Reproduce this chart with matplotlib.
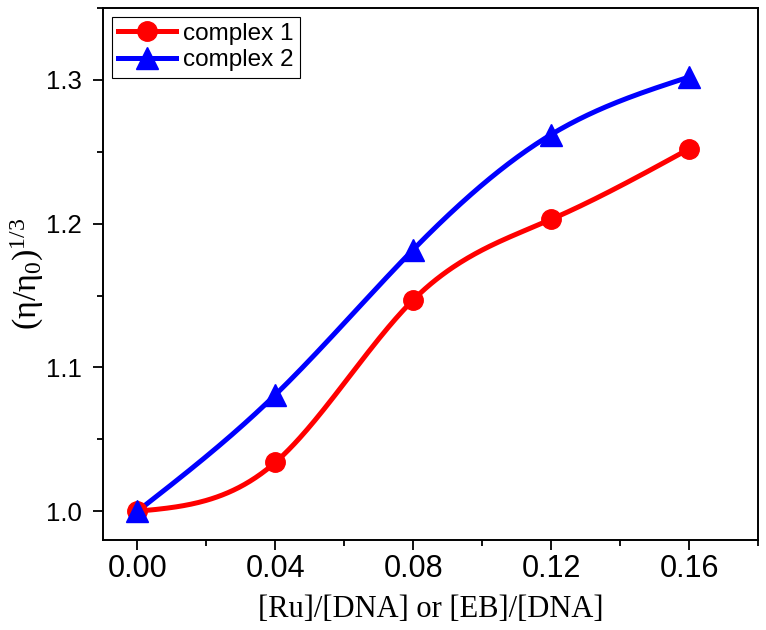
import numpy as np
import matplotlib
matplotlib.use("Agg")
import matplotlib.pyplot as plt
from matplotlib.ticker import MultipleLocator

x = [0.00, 0.04, 0.08, 0.12, 0.16]
complex1 = [1.000, 1.034, 1.147, 1.203, 1.252]
complex2 = [1.000, 1.081, 1.182, 1.262, 1.302]
xticks = [0.00, 0.04, 0.08, 0.12, 0.16]
yticks = [1.0, 1.1, 1.2, 1.3]


def natural_spline(xp, yp, xs):
    xp = np.asarray(xp, float); yp = np.asarray(yp, float)
    n = len(xp)
    h = np.diff(xp)
    A = np.zeros((n, n)); b = np.zeros(n)
    A[0, 0] = 1; A[-1, -1] = 1
    for i in range(1, n - 1):
        A[i, i - 1] = h[i - 1]
        A[i, i] = 2 * (h[i - 1] + h[i])
        A[i, i + 1] = h[i]
        b[i] = 6 * ((yp[i + 1] - yp[i]) / h[i] - (yp[i] - yp[i - 1]) / h[i - 1])
    M = np.linalg.solve(A, b)
    idx = np.clip(np.searchsorted(xp, xs) - 1, 0, n - 2)
    x0 = xp[idx]; x1 = xp[idx + 1]; hh = x1 - x0
    t0 = x1 - xs; t1 = xs - x0
    return (M[idx] * t0**3 / (6 * hh) + M[idx + 1] * t1**3 / (6 * hh)
            + (yp[idx] / hh - M[idx] * hh / 6) * t0
            + (yp[idx + 1] / hh - M[idx + 1] * hh / 6) * t1)


plt.rcParams['font.family'] = ['Liberation Sans', 'DejaVu Sans']
plt.rcParams['mathtext.fontset'] = 'custom'
plt.rcParams['mathtext.rm'] = 'Liberation Serif'
plt.rcParams['mathtext.it'] = 'Liberation Serif'

fig = plt.figure(figsize=(7.66, 6.30), dpi=100)
ax = fig.add_axes([103 / 766, 1 - 540 / 630, (758 - 103) / 766, (540 - 8) / 630])

xs = np.linspace(x[0], x[-1], 300)
ax.plot(xs, natural_spline(x, complex1, xs), color='#FF0000', lw=3.6, zorder=2)
ax.plot(xs, natural_spline(x, complex2, xs), color='#0000FF', lw=3.6, zorder=2)
ax.plot(x, complex1, 'o', color='#FF0000', ms=14, zorder=3)
ax.plot(x, complex2, '^', color='#0000FF', ms=16, zorder=4)

# legend proxies
h1, = ax.plot([], [], '-o', color='#FF0000', lw=3.6, ms=14)
h2, = ax.plot([], [], '-^', color='#0000FF', lw=3.6, ms=16)
leg = ax.legend([h1, h2], ['complex 1', 'complex 2'], loc='upper left',
                fontsize=17.5, frameon=True, fancybox=False, edgecolor='black',
                framealpha=1, handlelength=2.4, handletextpad=0.3,
                borderpad=0.25, labelspacing=0.2, borderaxespad=0.35)
leg.get_frame().set_linewidth(0.8)

ax.set_xlim(-0.01, 0.18)
ax.set_ylim(0.98, 1.35)
ax.set_xticks(xticks)
ax.set_xticklabels([f'{v:.2f}' for v in xticks])
ax.set_yticks(yticks)
ax.set_yticklabels([f'{v:.1f}' for v in yticks])
ax.xaxis.set_minor_locator(MultipleLocator(0.02))
ax.yaxis.set_minor_locator(MultipleLocator(0.05))
ax.tick_params(which='major', direction='out', length=7, width=1.3)
ax.tick_params(which='minor', direction='out', length=4, width=1.3)
ax.tick_params(axis='x', which='major', labelsize=22, pad=3)
ax.tick_params(axis='y', which='major', labelsize=18.5, pad=8)
ax.tick_params(top=False, right=False, which='both')
for s in ax.spines.values():
    s.set_linewidth(1.4)

ax.set_xlabel('[Ru]/[DNA] or [EB]/[DNA]', family='Liberation Serif', fontsize=22, labelpad=8)
ax.set_ylabel(r'$\mathrm{(\eta/\eta_0)^{1/3}}$', fontsize=24.5, labelpad=0)

fig.savefig('out.png', dpi=100)
